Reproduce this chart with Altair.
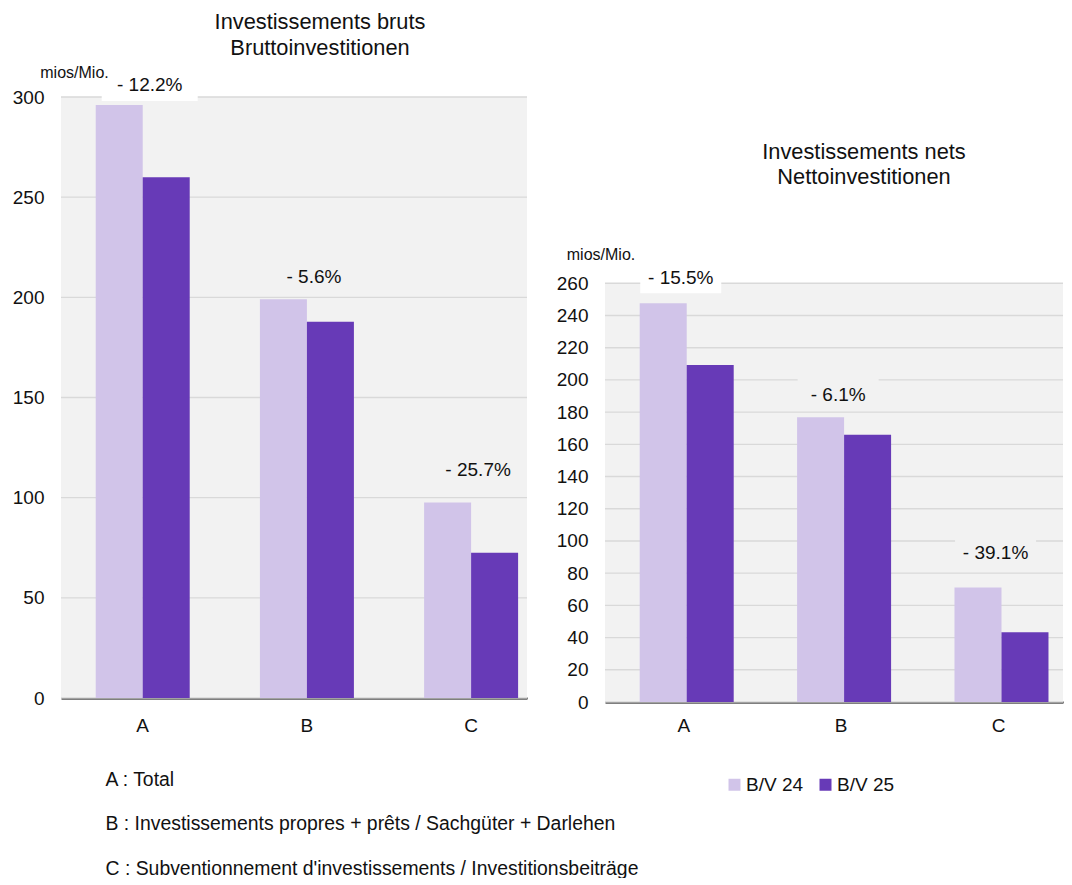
import altair as alt
import pandas as pd

# ---------------- data ----------------
categories = ["A", "B", "C"]
series = ["B/V 24", "B/V 25"]

gross_bv24 = [296.0, 199.0, 97.6]
gross_bv25 = [260.0, 187.8, 72.5]
gross_change = ["- 12.2%", "- 5.6%", "- 25.7%"]
gross_label_pos = [306.0, 210.0, 114.0]
gross_box_low = [298.0, 202.0, 106.0]
gross_box_high = [314.0, 218.0, 122.0]
gross_ticks = [0, 50, 100, 150, 200, 250, 300]

net_bv24 = [247.6, 176.8, 71.1]
net_bv25 = [209.2, 166.0, 43.3]
net_change = ["- 15.5%", "- 6.1%", "- 39.1%"]
net_label_pos = [263.3, 190.8, 92.8]
net_box_low = [253.8, 182.0, 82.0]
net_box_high = [272.6, 202.0, 102.0]
net_ticks = [0, 20, 40, 60, 80, 100, 120, 140, 160, 180, 200, 220, 240, 260]

gross_title = ["Investissements bruts", "Bruttoinvestitionen"]
net_title = ["Investissements nets", "Nettoinvestitionen"]
unit_label = "mios/Mio."
footnotes = [
    "A : Total",
    "B : Investissements propres + prêts / Sachgüter + Darlehen",
    "C : Subventionnement d'investissements / Investitionsbeiträge",
]

# ---------------- style ----------------
LIGHT = "#d1c4e9"
DARK = "#673ab7"
BG = "#f2f2f2"
GRID = "#d9d9d9"
TEXT = "#111111"
FONT = "Liberation Sans"
box_fill = ["#ffffff", BG, BG]

legend = alt.Legend(
    title=None, orient="none", legendX=664, legendY=678, direction="horizontal",
    symbolType="square", symbolSize=144, symbolStrokeWidth=0, symbolOpacity=1,
    labelFontSize=19, labelColor=TEXT, columnPadding=12, labelOffset=2, padding=0,
)


def panel(v24, v25, change, lpos, blo, bhi, ticks, ymax, width, height, yrange,
          xscale, title, foot, ytitle_xy, box_w, shift, xlabel_pad):
    bars_df = pd.DataFrame({
        "category": categories * 2,
        "series": [series[0]] * 3 + [series[1]] * 3,
        "value": v24 + v25,
    })
    lab_df = pd.DataFrame({"category": categories, "label": change, "pos": lpos,
                           "lo": blo, "hi": bhi, "fill": box_fill})
    tick_df = pd.DataFrame({"tick": ticks})
    bg_df = pd.DataFrame({"lo": [0], "hi": [ymax]})

    skw = dict(domain=[0, ymax], nice=False, zero=False)
    if yrange is not None:
        skw["range"] = yrange
    yscale = alt.Scale(**skw)
    yaxis = alt.Axis(
        values=ticks, grid=False, domain=False, ticks=False, tickSize=0,
        labelPadding=17, labelFontSize=19, labelColor=TEXT, zindex=1,
        title=unit_label, titleAngle=0, titleX=ytitle_xy[0], titleY=ytitle_xy[1],
        titleAlign="center", titleBaseline="middle", titleFontSize=16,
        titleFontWeight="normal", titleColor=TEXT,
    )
    xkw = dict(ticks=False, tickSize=0, labelAngle=0, labelFontSize=19,
               labelColor=TEXT, labelPadding=xlabel_pad, domainColor="#000000",
               domainWidth=2)
    if foot:
        xkw.update(title=foot, titleX=44, titleY=72, titleAlign="left",
                   titleBaseline="top", titleFontSize=19.4, titleFontWeight="normal",
                   titleLineHeight=44.8, titleColor=TEXT)
    else:
        xkw.update(title=None)
    xaxis = alt.Axis(**xkw)

    def Y(f):
        return alt.Y(f, type="quantitative", scale=yscale, axis=yaxis)

    def X():
        return alt.X("category:N", sort=categories, scale=xscale, axis=xaxis)

    bg = alt.Chart(bg_df).mark_rect(color=BG).encode(
        x=alt.value(0), x2=alt.value("width"), y=Y("lo"), y2="hi")
    grid = alt.Chart(tick_df).mark_rule(color=GRID, strokeWidth=1.4).encode(
        x=alt.value(0), x2=alt.value("width"), y=Y("tick"))
    bars = alt.Chart(bars_df).mark_bar().encode(
        x=X(),
        xOffset=alt.XOffset("series:N", sort=series,
                            scale=alt.Scale(paddingInner=0, paddingOuter=0)),
        y=Y("value"),
        color=alt.Color("series:N", sort=series,
                        scale=alt.Scale(domain=series, range=[LIGHT, DARK]),
                        legend=legend),
    )
    boxes = alt.Chart(lab_df).mark_bar(width=box_w, xOffset=shift).encode(
        x=X(), y=Y("lo"), y2="hi", fill=alt.Fill("fill:N", scale=None))
    texts = alt.Chart(lab_df).mark_text(fontSize=19, dx=shift, color=TEXT,
                                        baseline="middle").encode(
        x=X(), y=Y("pos"), text="label:N")

    return alt.layer(bg, grid, bars, boxes, texts).properties(
        width=width, height=height, title=title)


left_x = alt.Scale(domain=categories, paddingInner=0.4275, paddingOuter=0.1328,
                   align=0.796, round=False)
right_x = alt.Scale(domain=categories, paddingInner=0.44, paddingOuter=0.175,
                    align=0.63, round=False)

left = panel(
    gross_bv24, gross_bv25, gross_change, gross_label_pos, gross_box_low,
    gross_box_high, gross_ticks, 300, 466, 601, None, left_x,
    alt.TitleParams(gross_title, fontSize=21.8, fontWeight="normal", lineHeight=26,
                    anchor="middle", frame="group", dx=26, offset=5, color=TEXT),
    footnotes, (13, -24.5), 96, 7, 18,
)
right = panel(
    net_bv24, net_bv25, net_change, net_label_pos, net_box_low, net_box_high,
    net_ticks, 260, 458, 605, [605, 186.3], right_x,
    alt.TitleParams(net_title, fontSize=21.8, fontWeight="normal", lineHeight=25,
                    anchor="middle", frame="group", dx=30, offset=-92, color=TEXT),
    None, (-4.5, 157.7), 81, -3, 14,
)

chart = alt.hconcat(left, right, spacing=78, bounds="flush").properties(
    padding={"left": 4, "top": 3, "right": 0, "bottom": 0}
).configure(font=FONT).configure_view(stroke=None)

chart.save("out.html", embed_options={"renderer": "svg", "actions": False})
